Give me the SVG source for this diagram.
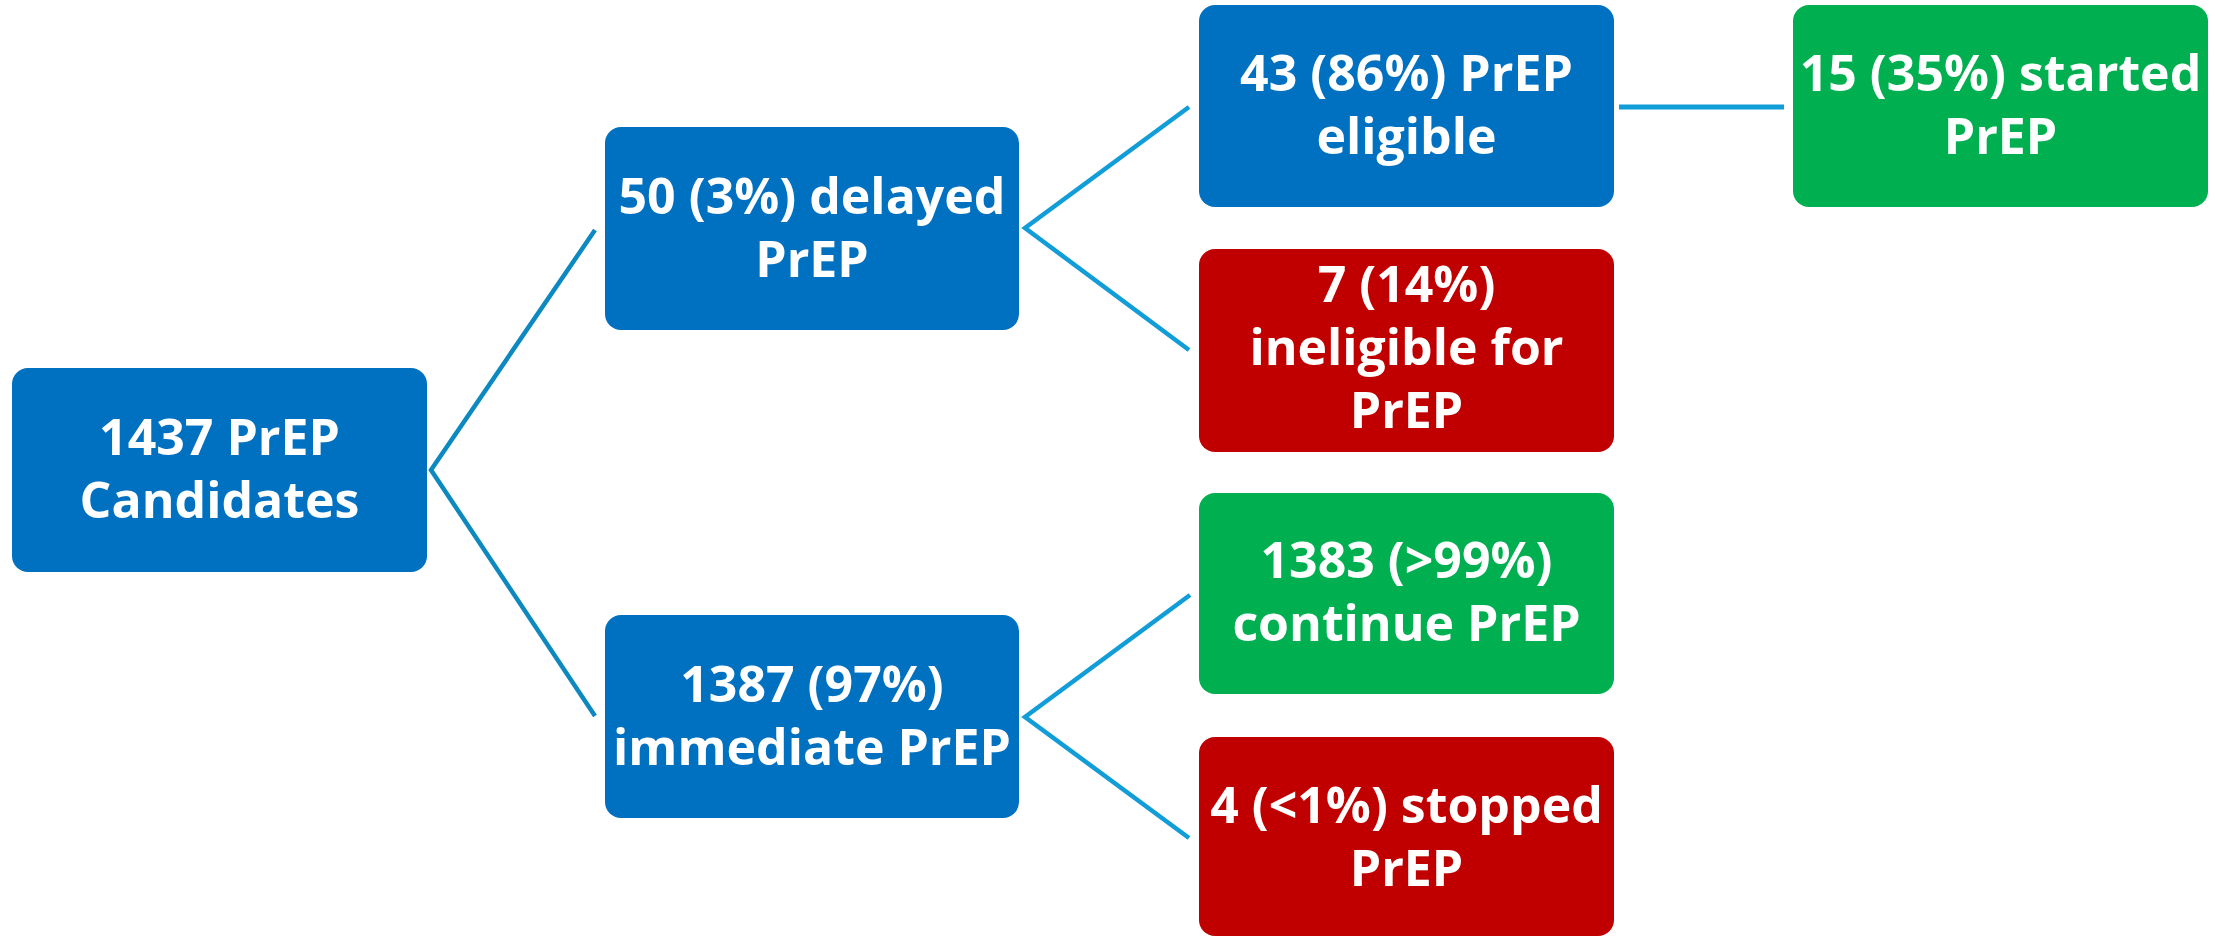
<svg xmlns="http://www.w3.org/2000/svg" width="2215" height="937" viewBox="0 0 2215 937">
<style>
.blue{fill:#0070C0}
.red{fill:#C00000}
.green{fill:#00B050}
.t{font-family:"Open Sans","Liberation Sans",sans-serif;font-weight:bold;font-size:50px;fill:#FFFFFF;text-anchor:middle}
.c1{stroke:#0B89C0;stroke-width:4.5;fill:none}
.c2{stroke:#109DD8;stroke-width:4.5;fill:none}
</style>
<rect width="2215" height="937" fill="#FFFFFF"/>
<g id="connectors">
<polyline class="c1" points="595,230 431,470 595,716"/>
<polyline class="c2" points="1189,107 1025,228 1189,350"/>
<polyline class="c2" points="1190,595 1025,717 1189,838"/>
<line class="c2" x1="1619" y1="107" x2="1784" y2="107" style="stroke-width:5"/>
</g>
<g id="n1437">
<rect class="blue" x="12" y="368" width="415" height="204" rx="16"/>
<text class="t" x="219.5" y="455">1437 PrEP</text>
<text class="t" x="219.5" y="518">Candidates</text>
</g>
<g id="n50">
<rect class="blue" x="605" y="127" width="414" height="203" rx="16"/>
<text class="t" x="812" y="213.5">50 (3%) delayed</text>
<text class="t" x="812" y="276.5">PrEP</text>
</g>
<g id="n1387">
<rect class="blue" x="605" y="615" width="414" height="203" rx="16"/>
<text class="t" x="812" y="701.5">1387 (97%)</text>
<text class="t" x="812" y="764.5">immediate PrEP</text>
</g>
<g id="n43">
<rect class="blue" x="1199" y="5" width="415" height="202" rx="16"/>
<text class="t" x="1406.5" y="91">43 (86%) PrEP</text>
<text class="t" x="1406.5" y="154">eligible</text>
</g>
<g id="n7">
<rect class="red" x="1199" y="249" width="415" height="203" rx="16"/>
<text class="t" x="1406.5" y="302">7 (14%)</text>
<text class="t" x="1406.5" y="365">ineligible for</text>
<text class="t" x="1406.5" y="428">PrEP</text>
</g>
<g id="n1383">
<rect class="green" x="1199" y="493" width="415" height="201" rx="16"/>
<text class="t" x="1406.5" y="578">1383 (&gt;99%)</text>
<text class="t" x="1406.5" y="641">continue PrEP</text>
</g>
<g id="n4">
<rect class="red" x="1199" y="737" width="415" height="199" rx="16"/>
<text class="t" x="1406.5" y="823">4 (&lt;1%) stopped</text>
<text class="t" x="1406.5" y="886">PrEP</text>
</g>
<g id="n15">
<rect class="green" x="1793" y="5" width="415" height="202" rx="16"/>
<text class="t" x="2000.5" y="91">15 (35%) started</text>
<text class="t" x="2000.5" y="154">PrEP</text>
</g>
</svg>
